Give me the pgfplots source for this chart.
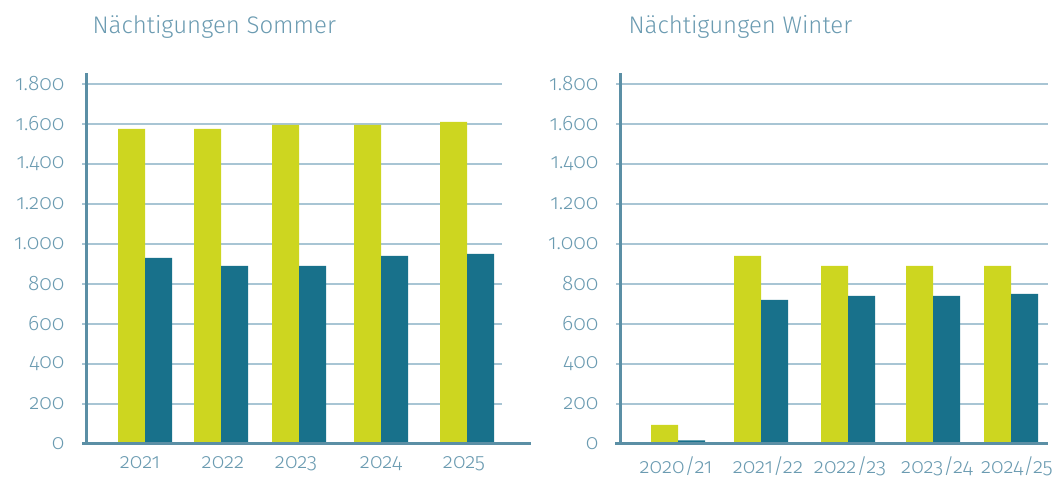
\documentclass[border=0pt]{standalone}
\usepackage{pgfplots}
\pgfplotsset{compat=1.18}
\usepackage{fontspec}
\setmainfont{Fira Sans Light}[Numbers=OldStyle]
\definecolor{lime}{HTML}{CDD620}
\definecolor{petrol}{HTML}{18718B}
\definecolor{axc}{HTML}{5B8FA5}
\definecolor{gridc}{HTML}{A8C5D4}
\definecolor{txt}{HTML}{6B9BB1}
\pgfplotsset{
  mystyle/.style={
    scale only axis,
    height=371pt,
    ymin=0, ymax=1855,
    ytick={0,200,...,1800},
    axis lines*=left,
    y axis line style={axc, line width=3pt, -},
    x axis line style={draw=none},
    ymajorgrids,
    grid style={gridc, line width=1.5pt},
    major y tick style={gridc, line width=1.5pt},
    major x tick style={draw=none},
    tick align=outside,
    major tick length=4pt,
    yticklabel style={font=\fontsize{21}{21}\selectfont, color=txt, xshift=-14pt},
    xticklabel style={font=\fontsize{21}{21}\selectfont, color=txt, yshift=-5pt},
    /pgf/number format/.cd, 1000 sep={.}, assume math mode=true,
    /pgfplots/.cd,
    clip=false,
  },
}
\begin{document}
\begin{tikzpicture}
\useasboundingbox (0,0) rectangle (1058pt,478pt);
\node[anchor=base west, font=\fontsize{24}{24}\selectfont, color=txt] at (89pt,444pt) {Nächtigungen Sommer};
\node[anchor=base west, font=\fontsize{24}{24}\selectfont, color=txt] at (625pt,444pt) {Nächtigungen Winter};

\begin{axis}[mystyle, at={(86pt,34pt)}, anchor=south west, width=416pt,
  xmin=86, xmax=502,
  xtick={140,223,296,381,464},
  xticklabels={2021,2022,2023,2024,2025}]
\addplot[ybar, bar width=27, bar shift=-13.5, fill=lime, draw=none]
  coordinates {(145,1575) (221,1575) (299,1595) (381,1595) (467,1610)};
\addplot[ybar, bar width=27, bar shift=13.5, fill=petrol, draw=none]
  coordinates {(145,930) (221,890) (299,890) (381,940) (467,950)};
\draw[axc, line width=3pt] (axis cs:82,0) -- (axis cs:531,0);
\end{axis}

\begin{axis}[mystyle, at={(620pt,34pt)}, anchor=south west, width=428pt,
  xmin=620, xmax=1048,
  xtick={676,768,850,937,1017},
  xticklabels={2020/21,2021/22,2022/23,2023/24,2024/25}]
\addplot[ybar, bar width=27, bar shift=-13.5, fill=lime, draw=none]
  coordinates {(678,95) (761,940) (848,890) (933,890) (1011,890)};
\addplot[ybar, bar width=27, bar shift=13.5, fill=petrol, draw=none]
  coordinates {(678,18) (761,720) (848,740) (933,740) (1011,750)};
\draw[axc, line width=3pt] (axis cs:615,0) -- (axis cs:1048,0);
\end{axis}
\end{tikzpicture}
\end{document}
